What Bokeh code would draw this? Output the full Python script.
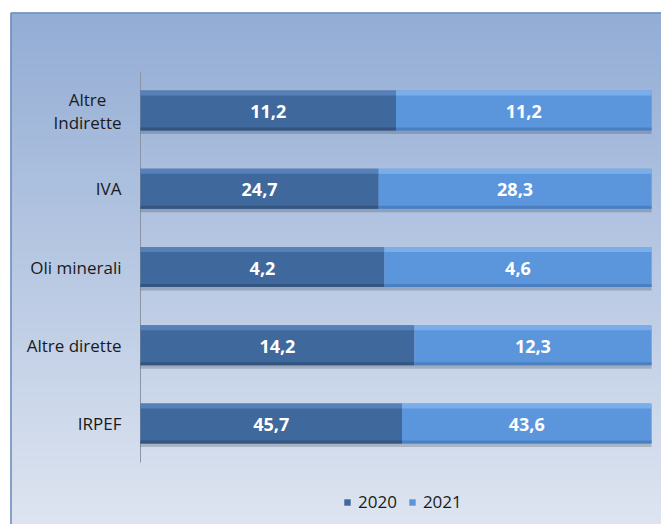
import numpy as np
from bokeh.plotting import figure
from bokeh.models import ColumnDataSource, Range1d, Legend, LegendItem
from bokeh.core.properties import value
from bokeh.embed import file_html
from bokeh.resources import INLINE

# ---------------- data ----------------
categories = ["Altre Indirette", "IVA", "Oli minerali", "Altre dirette", "IRPEF"]
category_labels = ["Altre\nIndirette", "IVA", "Oli minerali", "Altre dirette", "IRPEF"]
series = ["2020", "2021"]
values_2020 = [11.2, 24.7, 4.2, 14.2, 45.7]
values_2021 = [11.2, 28.3, 4.6, 12.3, 43.6]

# ---------------- layout constants (picture pixels) ----------------
W, H = 661, 524
X0_PX, X100_PX = 140, 651          # where 0% and 100% fall
CAT_TOP, CAT_BOT = 71, 462         # vertical extent of the category band
NCAT = len(categories)
PX_PER = (X100_PX - X0_PX) / 100.0
UNIT = (CAT_BOT - CAT_TOP) / NCAT
BAR_H = 40 / UNIT


def xs(x_screen):
    return (x_screen - X0_PX) / PX_PER


def ys(y_screen):
    return (CAT_BOT - y_screen) / UNIT


# ---------------- derived stacks (100% stacked) ----------------
tot = [a + b for a, b in zip(values_2020, values_2021)]
pct20 = [a / t * 100 for a, t in zip(values_2020, tot)]
yc = [NCAT - i - 0.5 for i in range(NCAT)]       # first category on top
HL = 5 / UNIT
SH = 3 / UNIT
src = ColumnDataSource(dict(
    cat=categories,
    y=yc,
    y_hl=[v + BAR_H / 2 - HL / 2 for v in yc],
    y_lo=[v - BAR_H / 2 + SH / 2 for v in yc],
    y_sh=[v - 3.5 / UNIT for v in yc],
    l0=[0.0] * NCAT,
    r0=pct20,
    l1=pct20,
    r1=[100.0] * NCAT,
    m0=[v / 2 for v in pct20],
    m1=[v + (100 - v) / 2 for v in pct20],
    t0=[f"{v:.1f}".replace(".", ",") for v in values_2020],
    t1=[f"{v:.1f}".replace(".", ",") for v in values_2021],
))

p = figure(width=W, height=H, output_backend="svg", toolbar_location=None,
           x_range=Range1d(xs(0), xs(W)), y_range=Range1d(ys(H), ys(0)),
           x_axis_location=None, y_axis_location=None, min_border=0)
p.outline_line_color = None
p.background_fill_color = "white"
p.border_fill_color = "white"
p.grid.visible = False

# ---------------- background gradient box ----------------
N = 256
top = np.array([147, 173, 213], dtype=float)
bot = np.array([222, 229, 241], dtype=float)
t = np.linspace(0, 1, N)[:, None]          # row 0 = bottom
cols = bot * (1 - t) + top * t
img = np.zeros((N, 1), dtype=np.uint32)
view = img.view(dtype=np.uint8).reshape((N, 1, 4))
view[:, 0, 0] = cols[:, 0]
view[:, 0, 1] = cols[:, 1]
view[:, 0, 2] = cols[:, 2]
view[:, 0, 3] = 255
p.image_rgba(image=[img], x=xs(10), y=ys(H), dw=xs(W) - xs(10), dh=ys(12) - ys(H))
p.segment(x0=[xs(10.5), xs(10.5)], y0=[ys(12.5), ys(12.5)],
          x1=[xs(10.5), xs(W)], y1=[ys(H), ys(12.5)],
          line_color="#6d8fbe", line_width=1.6)

# ---------------- axis line ----------------
p.segment(x0=[0], y0=[0], x1=[0], y1=[NCAT], line_color="#8b95a3", line_width=1)

# ---------------- bars ----------------
main_cols = ["#3f689c", "#5b96dc"]
hi_cols = ["#5a86bd", "#7fb3ec"]
lo_cols = ["#33557f", "#4a80c2"]

p.hbar(y="y_sh", left="l0", right="r1", height=BAR_H,
       fill_color="#2f3c4d", fill_alpha=0.25, line_color=None, source=src)

renderers = []
for i, (l, r) in enumerate([("l0", "r0"), ("l1", "r1")]):
    rr = p.hbar(y="y", left=l, right=r, height=BAR_H, fill_color=main_cols[i],
                line_color=None, source=src)
    renderers.append(rr)
    p.hbar(y="y_hl", left=l, right=r, height=HL, fill_color=hi_cols[i], fill_alpha=0.85,
           line_color=None, source=src)
    p.hbar(y="y_lo", left=l, right=r, height=SH, fill_color=lo_cols[i],
           line_color=None, source=src)

# ---------------- value labels ----------------
for m, tx in [("m0", "t0"), ("m1", "t1")]:
    p.text(x=m, y="y", text=tx, source=src, text_align="center", text_baseline="middle",
           text_color="white", text_font=value("Open Sans"), text_font_style="bold",
           text_font_size="18px", y_offset=1)

# ---------------- category labels ----------------
lab_src = ColumnDataSource(dict(
    y=yc,
    label=category_labels,
    align=["center" if "\n" in s else "right" for s in category_labels],
    x=[xs(121 - 34) if "\n" in s else xs(121) for s in category_labels],
))
p.text(x="x", y="y", text="label", source=lab_src, text_align="align",
       text_baseline="middle", text_color="#1a1a1a", text_font=value("Open Sans"),
       text_font_size="17px", text_line_height=1.0)

# ---------------- legend ----------------
legend = Legend(items=[LegendItem(label=s, renderers=[r]) for s, r in zip(series, renderers)],
                orientation="horizontal", location=(343, 11),
                glyph_width=8, glyph_height=8, label_standoff=7, spacing=11,
                padding=0, margin=0, background_fill_alpha=0, border_line_alpha=0,
                label_text_font="Open Sans", label_text_font_size="17px",
                label_text_color="#1a1a1a")
p.add_layout(legend)

open("out.html", "w").write(file_html(p, INLINE))
